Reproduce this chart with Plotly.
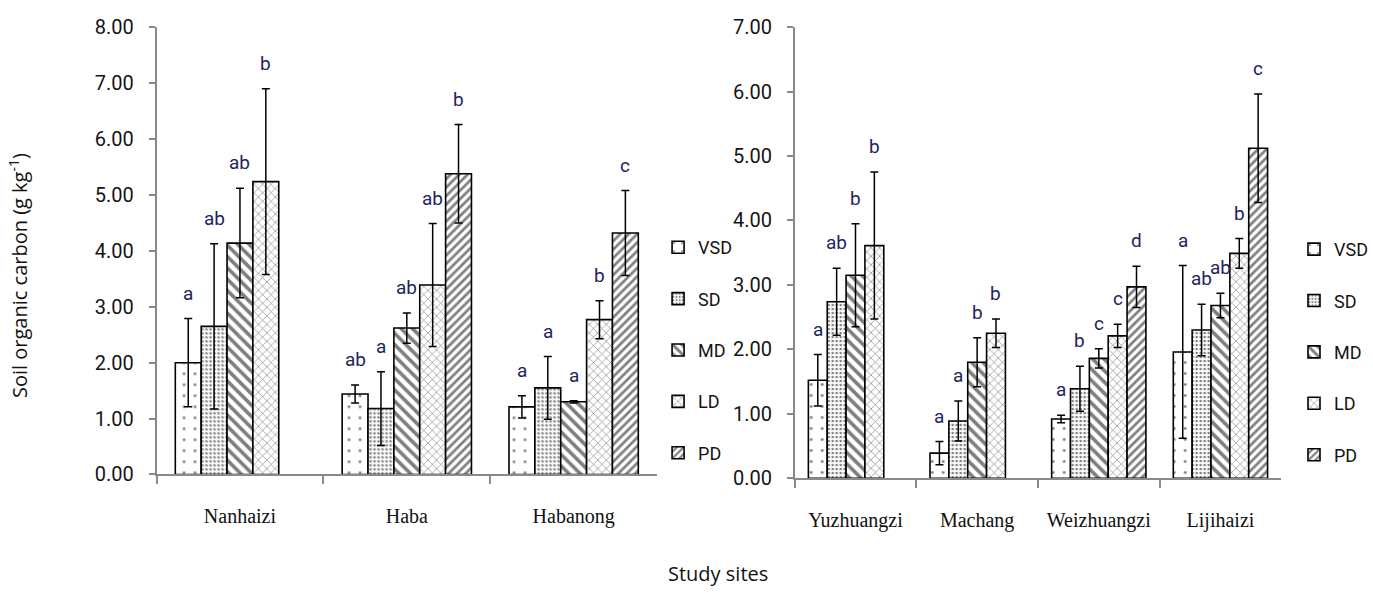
import plotly.graph_objects as go

# Degradation levels and their fill patterns
levels = ["VSD", "SD", "MD", "LD", "PD"]
patterns = {
    "VSD": dict(shape=".", size=11, solidity=0.05),
    "SD": dict(shape=".", size=4, solidity=0.35),
    "MD": dict(shape="\\", size=8, solidity=0.45),
    "LD": dict(shape="x", size=6, solidity=0.2),
    "PD": dict(shape="/", size=6, solidity=0.45),
}

# Left panel sites
sites_left = ["Nanhaizi", "Haba", "Habanong"]
mean_left = {
    "VSD": [2.00, 1.44, 1.21],
    "SD": [2.65, 1.18, 1.55],
    "MD": [4.14, 2.62, 1.30],
    "LD": [5.24, 3.39, 2.77],
    "PD": [None, 5.38, 4.32],
}
se_left = {
    "VSD": [0.79, 0.16, 0.20],
    "SD": [1.48, 0.66, 0.56],
    "MD": [0.98, 0.27, 0.02],
    "LD": [1.66, 1.10, 0.34],
    "PD": [None, 0.88, 0.76],
}
sig_left = {
    "VSD": ["a", "ab", "a"],
    "SD": ["ab", "a", "a"],
    "MD": ["ab", "ab", "a"],
    "LD": ["b", "ab", "b"],
    "PD": [None, "b", "c"],
}

# Right panel sites
sites_right = ["Yuzhuangzi", "Machang", "Weizhuangzi", "Lijihaizi"]
mean_right = {
    "VSD": [1.52, 0.39, 0.92, 1.96],
    "SD": [2.74, 0.89, 1.39, 2.30],
    "MD": [3.15, 1.80, 1.86, 2.68],
    "LD": [3.61, 2.25, 2.21, 3.49],
    "PD": [None, None, 2.97, 5.12],
}
se_right = {
    "VSD": [0.40, 0.18, 0.06, 1.34],
    "SD": [0.52, 0.31, 0.35, 0.40],
    "MD": [0.80, 0.38, 0.15, 0.19],
    "LD": [1.14, 0.22, 0.18, 0.23],
    "PD": [None, None, 0.32, 0.84],
}
sig_right = {
    "VSD": ["a", "a", "a", "a"],
    "SD": ["ab", "a", "b", "ab"],
    "MD": ["b", "b", "c", "ab"],
    "LD": ["b", "b", "c", "b"],
    "PD": [None, None, "d", "c"],
}

BARGAP = 0.225
TICK_FONT = dict(family="Roboto", size=20, color="#151515")
SITE_FONT = dict(family="Liberation Serif", size=20, color="#111111")
LETTER_FONT = dict(family="Roboto", size=19, color="#22245e")
AXIS_GREY = "#8a8a8a"

fig = go.Figure()
annotations = []


def add_panel(sites, means, ses, sigs, xref, yref, legend_name):
    n = len(levels)
    slot = (1 - BARGAP) / n
    for i, lev in enumerate(levels):
        pat = patterns[lev]
        fig.add_trace(go.Bar(
            x=sites, y=means[lev], name=lev,
            xaxis=xref, yaxis=yref,
            legend=legend_name, legendgroup=legend_name + lev,
            marker=dict(
                color="white",
                line=dict(color="black", width=1.6),
                pattern=dict(shape=pat["shape"], size=pat["size"],
                             solidity=pat["solidity"],
                             fgcolor="black", bgcolor="white",
                             fillmode="overlay"),
            ),
            error_y=dict(type="data", array=ses[lev], visible=True,
                         color="black", thickness=1.5, width=4),
        ))
        # significance letters sit just above each error bar cap
        for c, (m, s, t) in enumerate(zip(means[lev], ses[lev], sigs[lev])):
            if m is None or t is None:
                continue
            annotations.append(dict(
                x=c - (1 - BARGAP) / 2 + (i + 0.5) * slot,
                y=m + s, xref=xref, yref=yref,
                text=t, showarrow=False, yanchor="bottom",
                yshift=12, font=LETTER_FONT,
            ))


add_panel(sites_left, mean_left, se_left, sig_left, "x", "y", "legend")
add_panel(sites_right, mean_right, se_right, sig_right, "x2", "y2", "legend2")

W, H = 1373, 601

x_common = dict(
    type="category", showline=True, linecolor=AXIS_GREY, linewidth=1.5,
    ticks="outside", tickson="boundaries", ticklen=8, tickcolor=AXIS_GREY,
    tickwidth=1.5, tickfont=SITE_FONT, showgrid=False, zeroline=False,
    ticklabelstandoff=23,
)
y_common = dict(
    showline=True, linecolor=AXIS_GREY, linewidth=1.5, ticks="outside",
    ticklen=6, tickcolor=AXIS_GREY, tickwidth=1.5, tickfont=TICK_FONT,
    dtick=1, tickformat=".2f", showgrid=False, zeroline=False,
    ticklabelstandoff=11,
)

legend_common = dict(
    font=dict(family="Roboto", size=18, color="#151515"),
    traceorder="grouped", tracegroupgap=25, itemwidth=30,
    bgcolor="rgba(0,0,0,0)", yanchor="top", xanchor="left",
)

fig.update_layout(
    width=W, height=H,
    margin=dict(l=0, r=0, t=0, b=0),
    paper_bgcolor="white", plot_bgcolor="white",
    barmode="group", bargap=BARGAP, bargroupgap=0,
    showlegend=True,
    xaxis=dict(domain=[157 / W, 659 / W], anchor="y",
               range=[-0.5, 2.5], **x_common),
    yaxis=dict(domain=[1 - 481.7 / H, 1 - 16 / H], anchor="x",
               range=[0, 8], **y_common),
    xaxis2=dict(domain=[797 / W, 1285 / W], anchor="y2",
                range=[-0.5, 3.5], **x_common),
    yaxis2=dict(domain=[1 - 485.7 / H, 1 - 15.7 / H], anchor="x2",
                range=[0, 7], **y_common),
    legend=dict(x=660 / W, y=1 - 226 / H, **legend_common),
    legend2=dict(x=1298 / W, y=1 - 228 / H, **legend_common),
    annotations=annotations + [
        dict(text="Soil organic carbon (g kg<sup>-1</sup>)",
             x=18 / W, y=1 - 274 / H, xref="paper", yref="paper",
             textangle=-90, showarrow=False, xanchor="center",
             yanchor="middle",
             font=dict(family="Open Sans", size=20, color="#111111")),
        dict(text="Study sites", x=720 / W, y=1 - 585 / H,
             xref="paper", yref="paper", showarrow=False,
             xanchor="center", yanchor="middle",
             font=dict(family="Open Sans", size=20, color="#111111")),
    ],
)

fig.write_html("out.html")
